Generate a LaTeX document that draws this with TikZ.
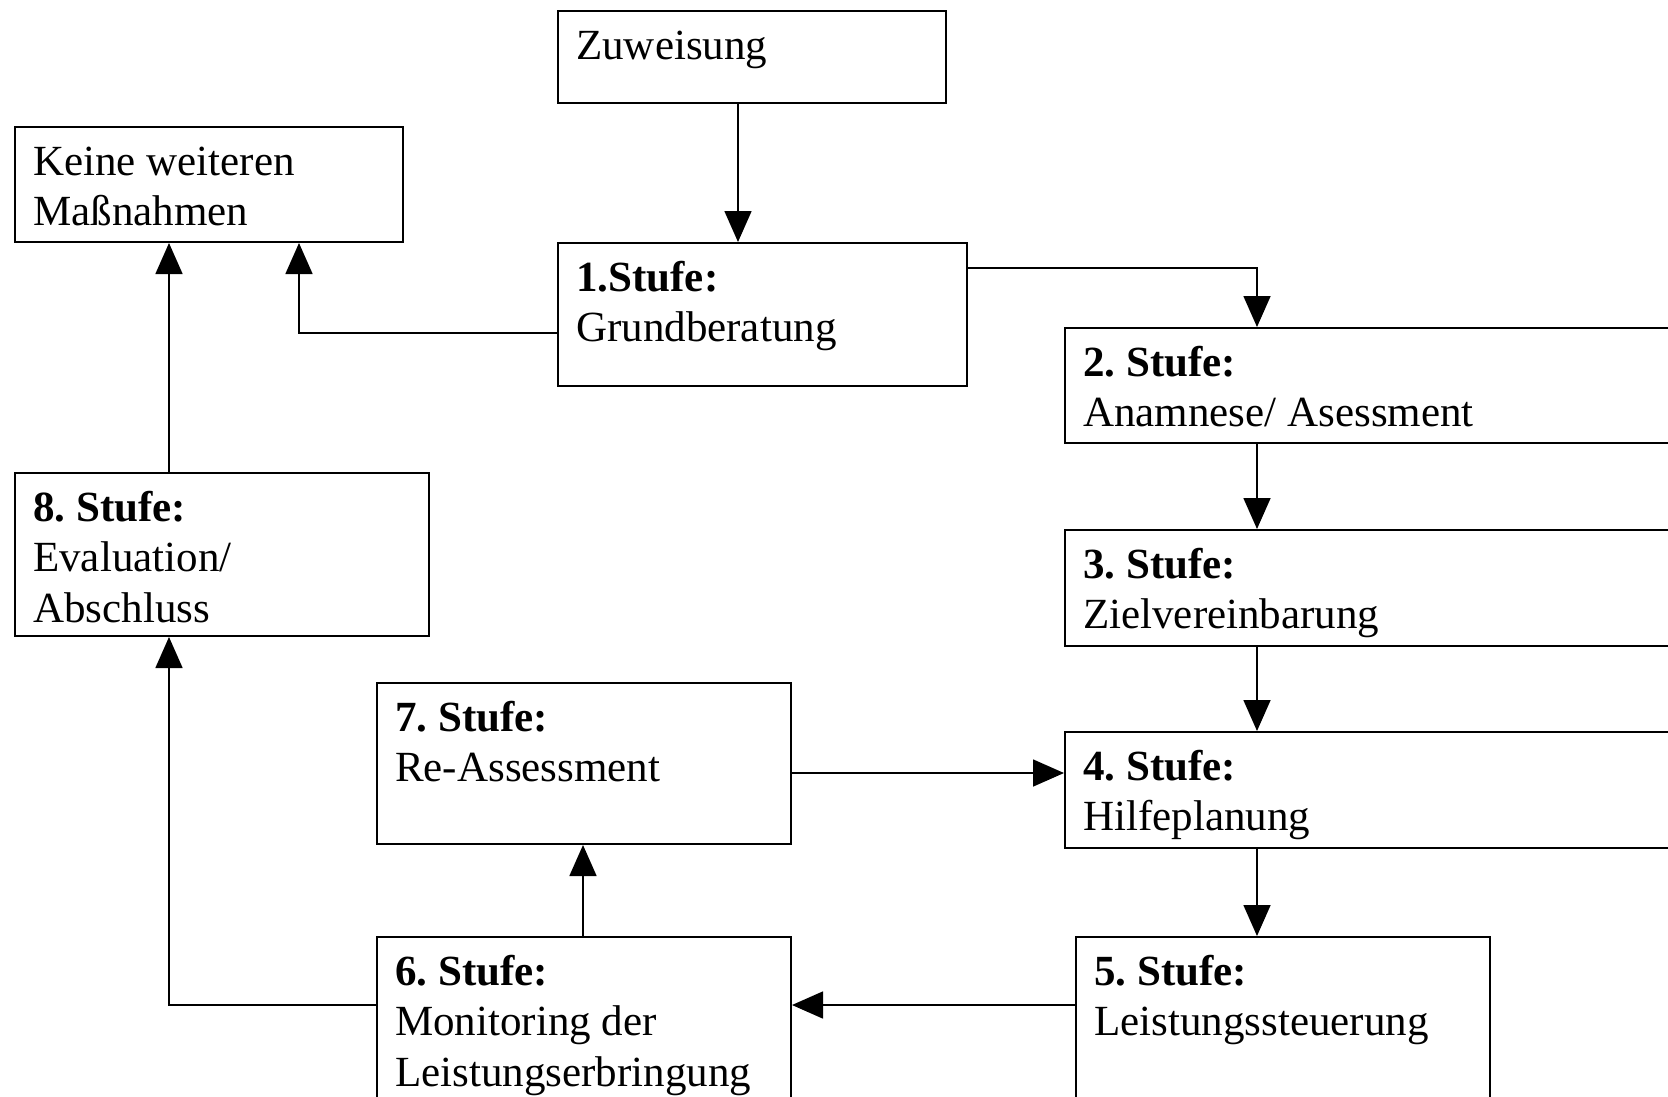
\documentclass[tikz,border=0pt]{standalone}
\usepackage{fontspec}
\setmainfont{Liberation Serif}
\usetikzlibrary{arrows.meta,calc}
\frenchspacing
\begin{document}
\begin{tikzpicture}[x=1pt,y=-1pt,
  box/.style={draw, line width=2pt, anchor=north west, inner sep=0pt},
  txt/.style={anchor=north west, inner sep=0pt, align=left, font=\fontsize{43}{50.5}\selectfont\frenchspacing},
  arr/.style={line width=1.6pt, -{Triangle[length=31pt,width=27pt]}},
  con/.style={line width=1.6pt}]
\useasboundingbox (0,0) rectangle (1668,1096);
\fill[white] (0,0) rectangle (1668,1096);
\clip (0,0) rectangle (1668,1096);

% boxes
\node[box, minimum width=388pt, minimum height=92pt]  (z)  at (557,10)   {};
\node[box, minimum width=388pt, minimum height=115pt] (kw) at (14,126)   {};
\node[box, minimum width=409pt, minimum height=143pt] (s1) at (557,242)  {};
\node[box, minimum width=700pt, minimum height=115pt] (s2) at (1064,327) {};
\node[box, minimum width=700pt, minimum height=116pt] (s3) at (1064,529) {};
\node[box, minimum width=700pt, minimum height=116pt] (s4) at (1064,731) {};
\node[box, minimum width=414pt, minimum height=200pt] (s5) at (1075,936) {};
\node[box, minimum width=414pt, minimum height=200pt] (s6) at (376,936)  {};
\node[box, minimum width=414pt, minimum height=161pt] (s7) at (376,682)  {};
\node[box, minimum width=414pt, minimum height=163pt] (s8) at (14,472)   {};

% texts
\node[txt] (tz)  at ($(z.north west)+(19,13.6)$)  {\strut Zuweisung};
\node[txt] (tkw) at ($(kw.north west)+(19,13.6)$) {\strut Keine weiteren\\\strut Maßnahmen};
\node[txt] (t1)  at ($(s1.north west)+(19,13.6)$) {\strut\textbf{1.Stufe:}\\\strut Grundberatung};
\node[txt] (t2)  at ($(s2.north west)+(19,13.6)$) {\strut\textbf{2. Stufe:}\\\strut Anamnese/ Asessment};
\node[txt] (t3)  at ($(s3.north west)+(19,13.6)$) {\strut\textbf{3. Stufe:}\\\strut Zielvereinbarung};
\node[txt] (t4)  at ($(s4.north west)+(19,13.6)$) {\strut\textbf{4. Stufe:}\\\strut Hilfeplanung};
\node[txt] (t5)  at ($(s5.north west)+(19,13.6)$) {\strut\textbf{5. Stufe:}\\\strut Leistungssteuerung};
\node[txt] (t6)  at ($(s6.north west)+(19,13.6)$) {\strut\textbf{6. Stufe:}\\\strut Monitoring der\\\strut Leistungserbringung};
\node[txt] (t7)  at ($(s7.north west)+(19,13.6)$) {\strut\textbf{7. Stufe:}\\\strut Re-Assessment};
\node[txt] (t8)  at ($(s8.north west)+(19,13.6)$) {\strut\textbf{8. Stufe:}\\\strut Evaluation/\\\strut Abschluss};

% column / row helper coordinates
\coordinate (cz) at (738,0);
\coordinate (cr) at (1257,0);
\coordinate (ck) at (299,0);
\coordinate (cl) at (169,0);
\coordinate (c7) at (583,0);
\coordinate (r1) at (0,268);
\coordinate (r1b) at (0,333);
\coordinate (r74) at (0,773);
\coordinate (r56) at (0,1005);

% connectors
\draw[arr] (z.south -| cz) -- (s1.north -| cz);
\draw[arr] (s1.east |- r1) -| (s2.north -| cr);
\draw[arr] (s1.west |- r1b) -| (kw.south -| ck);
\draw[arr] (s8.north -| cl) -- (kw.south -| cl);
\draw[arr] (s2.south -| cr) -- (s3.north -| cr);
\draw[arr] (s3.south -| cr) -- (s4.north -| cr);
\draw[arr] (s4.south -| cr) -- (s5.north -| cr);
\draw[arr] (s7.east |- r74) -- (s4.west |- r74);
\draw[arr] (s6.north -| c7) -- (s7.south -| c7);
\draw[arr] (s5.west |- r56) -- (s6.east |- r56);
\draw[arr] (s6.west |- r56) -| (s8.south -| cl);
\end{tikzpicture}
\end{document}
